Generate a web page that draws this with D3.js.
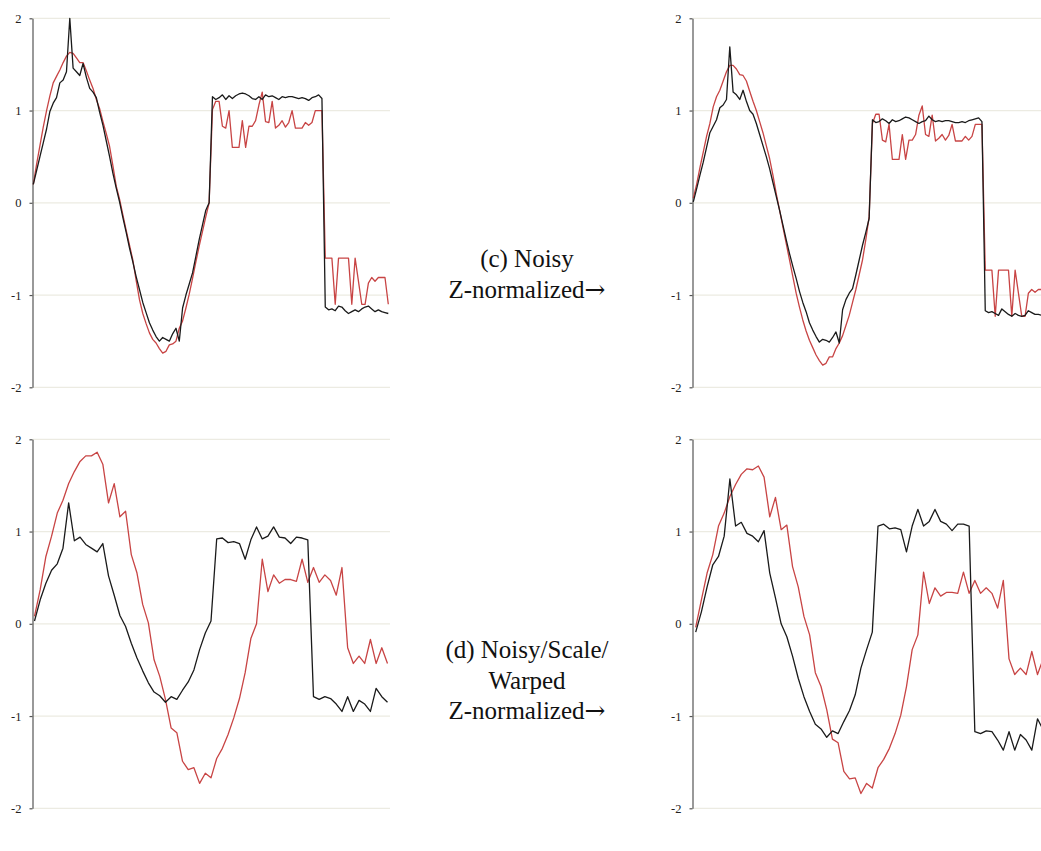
<!DOCTYPE html>
<html><head><meta charset="utf-8">
<script src="https://cdn.jsdelivr.net/npm/d3@7"></script>
<style>html,body{margin:0;padding:0;background:#fff}svg{display:block}</style>
</head><body>
<svg id="chart" width="1041" height="851"></svg>
<script>
// ---------- data ----------
const yTicks = [-2, -1, 0, 1, 2];
const yTickLabels = ["-2", "-1", "0", "1", "2"];

// (c) top-left: original (black) vs noisy (red), 108 samples
const tlBlack = [0.20,0.35,0.50,0.65,0.80,0.99,1.08,1.14,1.30,1.33,
 1.42,2.00,1.46,1.42,1.38,1.51,1.36,1.24,1.20,1.14,
 0.98,0.84,0.67,0.50,0.32,0.16,0.01,-0.16,-0.32,-0.49,
 -0.64,-0.80,-0.94,-1.08,-1.19,-1.30,-1.38,-1.45,-1.50,-1.46,
 -1.48,-1.50,-1.42,-1.36,-1.50,-1.14,-1.00,-0.88,-0.76,-0.58,
 -0.40,-0.24,-0.08,0.00,1.15,1.12,1.14,1.17,1.12,1.16,
 1.13,1.16,1.18,1.19,1.18,1.16,1.13,1.12,1.15,1.12,
 1.17,1.15,1.16,1.14,1.12,1.15,1.14,1.15,1.15,1.14,
 1.13,1.14,1.13,1.11,1.14,1.15,1.17,1.13,-1.13,-1.16,
 -1.15,-1.17,-1.12,-1.13,-1.17,-1.20,-1.18,-1.16,-1.18,-1.15,
 -1.13,-1.12,-1.15,-1.18,-1.16,-1.18,-1.19,-1.20];
const tlRed = [0.20,0.42,0.62,0.82,1.00,1.16,1.30,1.37,1.44,1.52,
 1.59,1.63,1.62,1.57,1.52,1.52,1.43,1.33,1.24,1.12,
 1.02,0.88,0.75,0.61,0.40,0.18,0.04,-0.13,-0.30,-0.46,
 -0.62,-0.84,-1.05,-1.20,-1.31,-1.41,-1.48,-1.52,-1.58,-1.63,
 -1.61,-1.54,-1.53,-1.50,-1.36,-1.28,-1.14,-0.99,-0.82,-0.64,
 -0.47,-0.31,-0.15,0.00,1.01,1.10,1.10,0.83,0.81,1.00,
 0.60,0.60,0.60,0.89,0.60,0.83,0.83,0.89,1.06,1.20,
 0.88,0.87,1.10,0.81,0.84,0.89,0.82,0.87,1.00,0.81,
 0.81,0.81,0.87,0.84,0.87,1.00,1.00,1.00,-0.60,-0.60,
 -0.60,-1.10,-0.60,-0.60,-0.60,-0.60,-1.10,-0.60,-0.85,-1.10,
 -1.10,-0.87,-0.81,-0.85,-0.81,-0.81,-0.81,-1.10];

// (c) top-right: Z-normalized
const trBlack = [0.01,0.15,0.30,0.44,0.60,0.76,0.83,0.90,1.03,1.06,
 1.12,1.69,1.20,1.17,1.12,1.22,1.10,1.00,0.96,0.86,
 0.74,0.62,0.50,0.37,0.22,0.07,-0.08,-0.24,-0.40,-0.55,
 -0.69,-0.82,-0.96,-1.08,-1.18,-1.30,-1.38,-1.45,-1.51,-1.48,
 -1.49,-1.51,-1.46,-1.40,-1.52,-1.16,-1.05,-0.98,-0.93,-0.78,
 -0.62,-0.46,-0.32,-0.17,0.90,0.87,0.88,0.91,0.89,0.86,
 0.90,0.88,0.89,0.91,0.93,0.92,0.90,0.88,0.86,0.88,
 0.89,0.94,0.90,0.88,0.89,0.88,0.89,0.89,0.88,0.87,
 0.87,0.88,0.87,0.89,0.90,0.91,0.92,0.88,-1.17,-1.19,
 -1.18,-1.20,-1.22,-1.15,-1.18,-1.21,-1.23,-1.20,-1.22,-1.23,
 -1.22,-1.17,-1.19,-1.21,-1.21,-1.22,-1.21,-1.22];
const trRed = [0.05,0.20,0.38,0.55,0.72,0.86,1.04,1.15,1.22,1.32,
 1.42,1.49,1.49,1.45,1.39,1.38,1.32,1.21,1.10,1.00,
 0.88,0.76,0.62,0.48,0.30,0.10,-0.08,-0.26,-0.44,-0.62,
 -0.80,-0.98,-1.13,-1.27,-1.39,-1.49,-1.57,-1.65,-1.71,-1.76,
 -1.74,-1.67,-1.67,-1.58,-1.52,-1.44,-1.33,-1.22,-1.08,-0.94,
 -0.78,-0.62,-0.40,-0.15,0.86,0.96,0.96,0.68,0.66,0.85,
 0.47,0.47,0.47,0.74,0.47,0.68,0.68,0.74,0.95,1.05,
 0.74,0.72,0.95,0.67,0.70,0.74,0.68,0.73,0.85,0.67,
 0.67,0.67,0.72,0.68,0.72,0.85,0.85,0.85,-0.73,-0.73,
 -0.73,-1.23,-0.73,-0.73,-0.73,-0.73,-1.23,-0.73,-0.98,-1.23,
 -1.23,-0.98,-0.94,-0.97,-0.94,-0.94,-0.94,-1.23];

// (d) bottom-left: noisy / scaled / warped, 63 samples
const blBlack = [0.03,0.26,0.44,0.58,0.65,0.82,1.31,0.90,0.94,0.86,
 0.82,0.78,0.87,0.52,0.31,0.09,-0.03,-0.21,-0.37,-0.51,
 -0.64,-0.74,-0.78,-0.85,-0.79,-0.82,-0.72,-0.63,-0.50,-0.28,
 -0.10,0.03,0.92,0.93,0.88,0.89,0.87,0.70,0.91,1.05,
 0.92,0.95,1.05,0.94,0.93,0.87,0.94,0.93,0.91,-0.79,
 -0.82,-0.79,-0.81,-0.87,-0.95,-0.79,-0.95,-0.83,-0.87,-0.95,
 -0.70,-0.79,-0.85];
const blRed = [0.08,0.37,0.73,0.95,1.20,1.34,1.52,1.65,1.76,1.82,
 1.82,1.86,1.73,1.31,1.52,1.16,1.22,0.75,0.55,0.21,
 0.01,-0.39,-0.57,-0.82,-1.13,-1.18,-1.49,-1.58,-1.56,-1.73,
 -1.62,-1.67,-1.46,-1.35,-1.20,-1.02,-0.81,-0.53,-0.16,0.00,
 0.70,0.35,0.53,0.44,0.48,0.48,0.46,0.70,0.45,0.61,
 0.45,0.53,0.47,0.31,0.61,-0.26,-0.43,-0.35,-0.43,-0.17,
 -0.43,-0.26,-0.43];

// (d) bottom-right: Z-normalized
const brBlack = [-0.09,0.13,0.40,0.64,0.73,0.95,1.57,1.06,1.10,0.98,
 0.95,0.89,1.01,0.55,0.28,0.00,-0.14,-0.35,-0.59,-0.79,
 -0.95,-1.09,-1.14,-1.23,-1.16,-1.19,-1.06,-0.94,-0.77,-0.48,
 -0.28,-0.09,1.06,1.08,1.03,1.04,1.02,0.78,1.06,1.24,
 1.06,1.11,1.24,1.11,1.08,1.01,1.08,1.08,1.06,-1.17,
 -1.19,-1.16,-1.17,-1.26,-1.37,-1.17,-1.37,-1.20,-1.26,-1.37,
 -1.03,-1.15,-1.21];
const brRed = [-0.04,0.26,0.55,0.75,1.06,1.20,1.38,1.51,1.62,1.68,
 1.67,1.71,1.59,1.16,1.37,1.02,1.07,0.62,0.40,0.08,
 -0.12,-0.53,-0.68,-0.93,-1.25,-1.29,-1.60,-1.68,-1.67,-1.84,
 -1.73,-1.78,-1.56,-1.47,-1.35,-1.19,-0.99,-0.68,-0.28,-0.12,
 0.56,0.22,0.39,0.30,0.34,0.34,0.33,0.56,0.33,0.47,
 0.33,0.39,0.33,0.17,0.47,-0.38,-0.55,-0.48,-0.55,-0.30,
 -0.55,-0.38,-0.55];

const labelC = ["(c) Noisy", "Z-normalized"];
const labelD = ["(d) Noisy/Scale/", "Warped", "Z-normalized"];
const arrow = "\u2192";

// ---------- layout ----------
const svg = d3.select("#chart");
const W = 1041;
const serif = "'Liberation Serif', 'Times New Roman', serif";

const panels = [
  {black: tlBlack, red: tlRed, axisX: 32.5, x0: 33.3, x1: 388.3, gridEnd: 390, yTop: 18.3, yBot: 387.3},
  {black: trBlack, red: trRed, axisX: 692.5, x0: 693.3, x1: 1048.3, gridEnd: W, yTop: 18.3, yBot: 387.3},
  {black: blBlack, red: blRed, axisX: 32.5, x0: 34.5, x1: 387.5, gridEnd: 390, yTop: 439.3, yBot: 808.3},
  {black: brBlack, red: brRed, axisX: 692.5, x0: 695.7, x1: 1048.9, gridEnd: W, yTop: 439.3, yBot: 808.3}
];

svg.append("defs").append("clipPath").attr("id", "clipAll")
  .append("rect").attr("x", 0).attr("y", 0).attr("width", W).attr("height", 851);

panels.forEach(p => {
  const y = d3.scaleLinear().domain([-2, 2]).range([p.yBot, p.yTop]);
  const n = p.black.length;
  const x = d3.scaleLinear().domain([0, n - 1]).range([p.x0, p.x1]);
  const g = svg.append("g");

  g.selectAll("line.grid").data(yTicks).enter().append("line")
    .attr("x1", p.axisX).attr("x2", p.gridEnd)
    .attr("y1", d => y(d)).attr("y2", d => y(d))
    .attr("stroke", "#ecebe2").attr("stroke-width", 1.2);

  const ax = g.append("g").attr("transform", `translate(${p.axisX},0)`)
    .call(d3.axisLeft(y).tickValues(yTicks)
      .tickFormat((d, i) => yTickLabels[i])
      .tickSize(3).tickSizeOuter(0).tickPadding(8));
  ax.select(".domain").attr("stroke", "#555").attr("stroke-width", 1.2);
  ax.selectAll(".tick line").attr("stroke", "#555").attr("stroke-width", 1.2);
  ax.selectAll(".tick text").attr("font-family", serif)
    .attr("font-size", 12.5).attr("fill", "#222");

  const line = d3.line().x((d, i) => x(i)).y(d => y(d));
  const lg = g.append("g").attr("clip-path", "url(#clipAll)");
  lg.append("path").datum(p.red).attr("d", line)
    .attr("fill", "none").attr("stroke", "#c84444").attr("stroke-width", 1.3)
    .attr("stroke-linejoin", "round");
  lg.append("path").datum(p.black).attr("d", line)
    .attr("fill", "none").attr("stroke", "#1a1a1a").attr("stroke-width", 1.3)
    .attr("stroke-linejoin", "round");
});

function addLabel(lines, firstBaseline) {
  const t = svg.append("text")
    .attr("text-anchor", "middle")
    .attr("font-family", serif)
    .attr("font-size", 25).attr("fill", "#111");
  lines.forEach((s, i) => {
    const ts = t.append("tspan").attr("x", 527).attr("y", firstBaseline + i * 30.5).text(s);
    if (i === lines.length - 1) {
      t.append("tspan").attr("font-family", "'DejaVu Serif', serif").attr("font-size", 25).text(arrow);
    }
  });
}
addLabel(labelC, 267);
addLabel(labelD, 658);
</script>
</body></html>
